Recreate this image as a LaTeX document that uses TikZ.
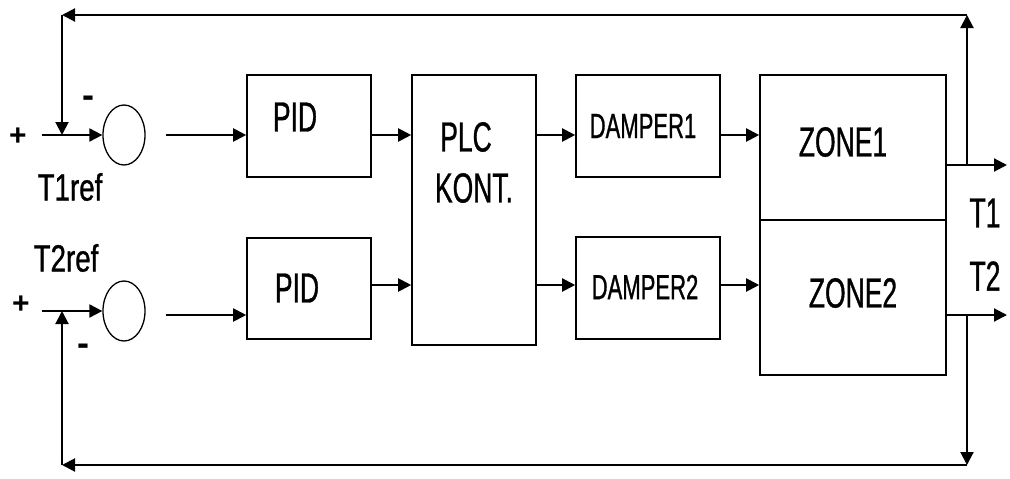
\documentclass[tikz,border=0pt]{standalone}
\usepackage{fontspec}
\setmainfont{Liberation Sans}
\newfontfamily\blkfont[FakeStretch=0.63,FakeBold=0.8]{Liberation Sans}
\newfontfamily\reffont[FakeStretch=0.73,FakeBold=0.8]{Liberation Sans}
\usetikzlibrary{arrows.meta,shapes.geometric}

\begin{document}
\begin{tikzpicture}[x=1pt,y=-1pt,line width=2pt,
  blk/.style={draw,line width=1.6pt,inner sep=0pt},
  sum/.style={draw,ellipse,line width=1.3pt,minimum width=42pt,minimum height=60pt,inner sep=0pt},
  arr/.style={-{Triangle[length=13pt,width=13pt]}},
  txt/.style={inner sep=0pt,font=\blkfont\fontsize{42}{42}\selectfont},
  sgn/.style={inner sep=0pt,font=\bfseries\fontsize{30}{30}\selectfont}]
  \useasboundingbox (0,0) rectangle (1010,479);
  % rows and corners
  \coordinate (row1) at (0,135); \coordinate (row2) at (0,285);
  \coordinate (o1) at (0,165); \coordinate (o2) at (0,315);
  \coordinate (tl) at (62,15); \coordinate (tr) at (967,15);
  \coordinate (bl) at (62,465); \coordinate (br) at (967,465);
  \coordinate (in1) at (42,135); \coordinate (in2) at (42,311);
  \coordinate (T1end) at (1007,165); \coordinate (T2end) at (1007,315);
  % blocks
  \node[sum] (s1) at (124,135) {};
  \node[sum] (s2) at (124,311) {};
  \node[blk,minimum width=124pt,minimum height=102pt] (pid1) at (309,126) {};
  \node[blk,minimum width=124pt,minimum height=101pt] (pid2) at (309,288.5) {};
  \node[blk,minimum width=124pt,minimum height=270pt] (plc) at (474,210) {};
  \node[blk,minimum width=144pt,minimum height=102pt] (d1) at (648,126) {};
  \node[blk,minimum width=144pt,minimum height=102pt] (d2) at (648,288) {};
  \node[blk,minimum width=186pt,minimum height=145pt] (z1) at (853,147.5) {};
  \node[blk,minimum width=186pt,minimum height=155pt] (z2) at (853,297.5) {};
  % texts
  \node[txt] (pidt1) at (295,117) {PID};
  \node[txt] (pidt2) at (297,288) {PID};
  \node[txt] (plct) at (466,137) {PLC};
  \node[txt] (kontt) at (474,188) {KONT.};
  \node[txt,font=\blkfont\fontsize{35}{35}\selectfont] (d1t) at (643,126) {DAMPER1};
  \node[txt,font=\blkfont\fontsize{35}{35}\selectfont] (d2t) at (645,287) {DAMPER2};
  \node[txt] (z1t) at (843,142) {ZONE1};
  \node[txt] (z2t) at (853,293) {ZONE2};
  \node[txt] (t1) at (985,213) {T1};
  \node[txt] (t2) at (985,276) {T2};
  \node[txt,font=\reffont\fontsize{38}{38}\selectfont] (r1) at (70,187) {T1ref};
  \node[txt,font=\reffont\fontsize{38}{38}\selectfont] (r2) at (66,258) {T2ref};
  \node[sgn] (plus1) at (18,137) {+};
  \node[sgn] (plus2) at (21,305) {+};
  \node[sgn,font=\bfseries\fontsize{36}{36}\selectfont] (minus1) at (88,102) {-};
  \node[sgn,font=\bfseries\fontsize{36}{36}\selectfont] (minus2) at (83,350) {-};
  % forward path
  \draw[arr] (in1) -- (s1.west);
  \draw[arr] (in2) -- (s2.west);
  \draw[arr] ([xshift=20pt]s1.east) -- (pid1.west |- row1);
  \draw[arr] ([xshift=20pt]s2.east |- o2) -- (pid2.west |- o2);
  \foreach \a/\b/\r in {pid1/plc/row1,pid2/plc/row2,plc/d1/row1,plc/d2/row2,d1/z1/row1,d2/z2/row2}
    \draw[arr] (\a.east |- \r) -- (\b.west |- \r);
  \draw[arr] (z1.east |- o1) -- (T1end);
  \draw[arr] (z2.east |- o2) -- (T2end);
  % feedback
  \draw[arr] (tr |- o1) -- (tr);
  \draw[arr] (tr) -- (tl);
  \draw[arr] (tl) -- (tl |- row1);
  \draw[arr] (br |- o2) -- (br);
  \draw[arr] (br) -- (bl);
  \draw[arr] (bl) -- (bl |- in2);
\end{tikzpicture}
\end{document}
